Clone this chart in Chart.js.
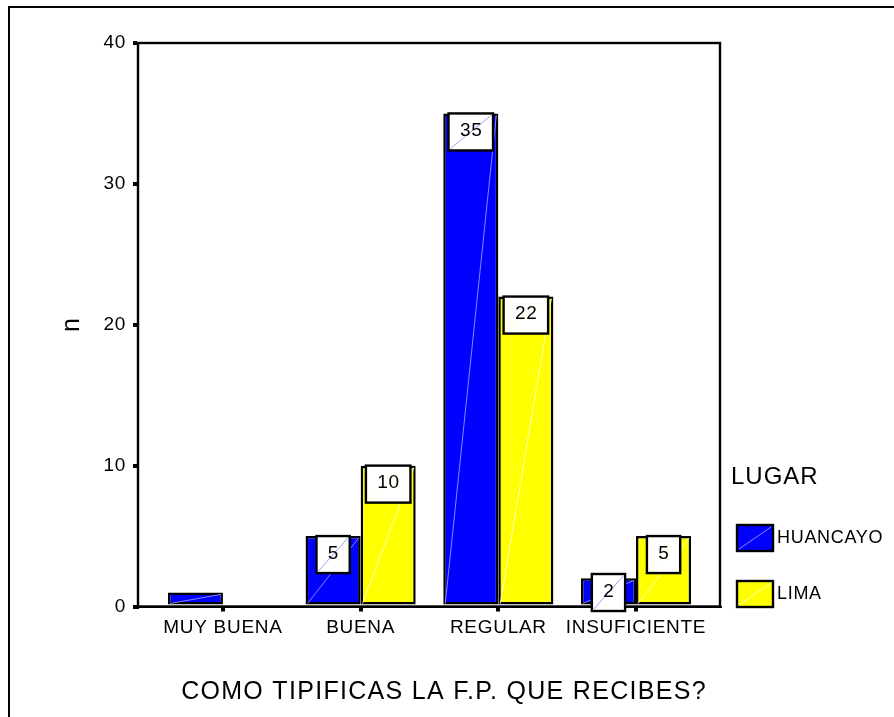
<!DOCTYPE html>
<html><head><meta charset="utf-8">
<script src="https://cdn.jsdelivr.net/npm/chart.js@4/dist/chart.umd.min.js"></script>
<style>html,body{margin:0;padding:0;background:#fff;}#wrap{width:894px;height:717px;}</style>
</head><body><div id="wrap"><canvas id="c" width="894" height="717"></canvas></div>
<script>
const categories = ['MUY BUENA', 'BUENA', 'REGULAR', 'INSUFICIENTE'];
const huancayo = [1, 5, 35, 2];
const lima = [0, 10, 22, 5];
const yTickValues = [0, 10, 20, 30, 40];
const seriesNames = ['HUANCAYO', 'LIMA'];
const legendTitle = 'LUGAR';
const xTitle = 'COMO TIPIFICAS LA F.P. QUE RECIBES?';
const yTitle = 'n';
const fillColors = ['#0000FF', '#FFFF00'];
const diagColors = ['rgba(150,150,255,0.9)', 'rgba(255,255,200,0.95)'];

const FONT = 'Arial, "Liberation Sans", sans-serif';
Chart.defaults.font.family = FONT;
Chart.defaults.color = '#000';

const toPoints = arr => arr.map((v, i) => ({x: i, y: v}));

const decor = {
  id: 'decor',
  beforeDraw(chart) {
    const ctx = chart.ctx;
    ctx.letterSpacing = '0.7px';
    ctx.save();
    ctx.strokeStyle = '#000'; ctx.lineWidth = 2;
    ctx.beginPath(); ctx.moveTo(9, 717); ctx.lineTo(9, 7); ctx.lineTo(894, 7); ctx.stroke();
    ctx.restore();
  },
  afterDatasetsDraw(chart) {
    const ctx = chart.ctx, ca = chart.chartArea, ys = chart.scales.y;
    const zero = ys.getPixelForValue(0);
    const boxes = [];
    chart.data.datasets.forEach((ds, di) => {
      const meta = chart.getDatasetMeta(di);
      meta.data.forEach((bar, i) => {
        const v = ds.data[i].y;
        if (!v) return;
        const p = bar.getProps(['x', 'y', 'base', 'width'], true);
        ctx.save();
        ctx.strokeStyle = diagColors[di]; ctx.lineWidth = 1;
        ctx.beginPath(); ctx.moveTo(p.x - p.width / 2 + 2, p.base - 1); ctx.lineTo(p.x + p.width / 2 - 2, p.y + 2); ctx.stroke();
        ctx.restore();
        if (v >= 2) boxes.push({x: p.x, y: p.y, v, di});
      });
    });
    ctx.save();
    ctx.strokeStyle = '#000'; ctx.lineWidth = 2.4;
    ctx.strokeRect(ca.left, ca.top, ca.right - ca.left, ca.bottom - ca.top);
    ctx.restore();
    boxes.forEach(b => {
      ctx.save();
      ctx.font = '19px ' + FONT;
      ctx.letterSpacing = '0.7px';
      const txt = String(b.v);
      const w = ctx.measureText(txt).width + 22, h = 37;
      const cy = Math.min(b.y + 18.5, zero - 14);
      const x0 = b.x - w / 2, y0 = cy - h / 2;
      ctx.fillStyle = '#fff'; ctx.fillRect(x0, y0, w, h);
      ctx.strokeStyle = diagColors[b.di]; ctx.lineWidth = 1;
      ctx.beginPath(); ctx.moveTo(x0 + 2, y0 + h - 2); ctx.lineTo(x0 + w - 2, y0 + 2); ctx.stroke();
      ctx.strokeStyle = '#000'; ctx.lineWidth = 2.4; ctx.strokeRect(x0, y0, w, h);
      ctx.fillStyle = '#000'; ctx.textAlign = 'center'; ctx.textBaseline = 'middle';
      ctx.fillText(txt, b.x + 0.4, cy - 1);
      ctx.restore();
    });
  },
  afterDraw(chart) {
    const ctx = chart.ctx;
    ctx.save();
    ctx.fillStyle = '#000'; ctx.textBaseline = 'middle';
    ctx.font = '25px ' + FONT; ctx.letterSpacing = '1.3px'; ctx.textAlign = 'center';
    ctx.fillText(xTitle, 444, 692);
    ctx.textAlign = 'left';
    ctx.font = '24px ' + FONT; ctx.letterSpacing = '1px';
    ctx.fillText(legendTitle, 731, 477);
    ctx.font = '18px ' + FONT; ctx.letterSpacing = '0.7px';
    seriesNames.forEach((name, i) => {
      const by = 525 + i * 56;
      ctx.fillStyle = fillColors[i]; ctx.fillRect(737, by, 36, 26);
      ctx.strokeStyle = diagColors[i]; ctx.lineWidth = 1;
      ctx.beginPath(); ctx.moveTo(739, by + 24); ctx.lineTo(771, by + 2); ctx.stroke();
      ctx.strokeStyle = '#000'; ctx.lineWidth = 2.4; ctx.strokeRect(737, by, 36, 26);
      ctx.fillStyle = '#000';
      ctx.fillText(name, 777, by + 13);
    });
    ctx.restore();
  }
};

new Chart(document.getElementById('c'), {
  type: 'bar',
  data: {
    datasets: [
      {label: seriesNames[0], data: toPoints(huancayo), backgroundColor: fillColors[0], borderColor: '#000',
       borderWidth: c => (c.raw && c.raw.y ? 2.5 : 0), borderSkipped: false},
      {label: seriesNames[1], data: toPoints(lima), backgroundColor: fillColors[1], borderColor: '#000',
       borderWidth: c => (c.raw && c.raw.y ? 2.5 : 0), borderSkipped: false}
    ]
  },
  options: {
    responsive: false,
    devicePixelRatio: 1,
    animation: false,
    categoryPercentage: 0.8,
    barPercentage: 1.0,
    layout: {padding: {left: 0, top: 43, right: 174, bottom: 0}},
    plugins: {legend: {display: false}, tooltip: {enabled: false}, title: {display: false}},
    scales: {
      x: {
        type: 'linear',
        offset: false,
        min: -0.617, max: 3.61,
        afterBuildTicks: s => { s.ticks = categories.map((c, i) => ({value: i})); },
        afterFit: s => { s.height = 110.5; },
        ticks: {callback: v => categories[v], font: {size: 19}, padding: 5, maxRotation: 0, minRotation: 0, autoSkip: false, color: '#000'},
        grid: {offset: false, drawOnChartArea: false, drawTicks: true, tickLength: 5, lineWidth: 4, color: '#000'},
        border: {display: true, color: '#000', width: 2}
      },
      y: {
        min: 0, max: 40,
        afterBuildTicks: s => { s.ticks = yTickValues.map(v => ({value: v})); },
        afterFit: s => { s.width = 138; },
        ticks: {font: {size: 19}, padding: 7, color: '#000'},
        grid: {drawOnChartArea: false, drawTicks: true, tickLength: 5, lineWidth: 4, color: '#000'},
        border: {display: true, color: '#000', width: 2},
        title: {display: true, text: yTitle, font: {size: 25}, color: '#000', padding: {top: 57, bottom: 0}}
      }
    }
  },
  plugins: [decor]
});
</script>
</body></html>
